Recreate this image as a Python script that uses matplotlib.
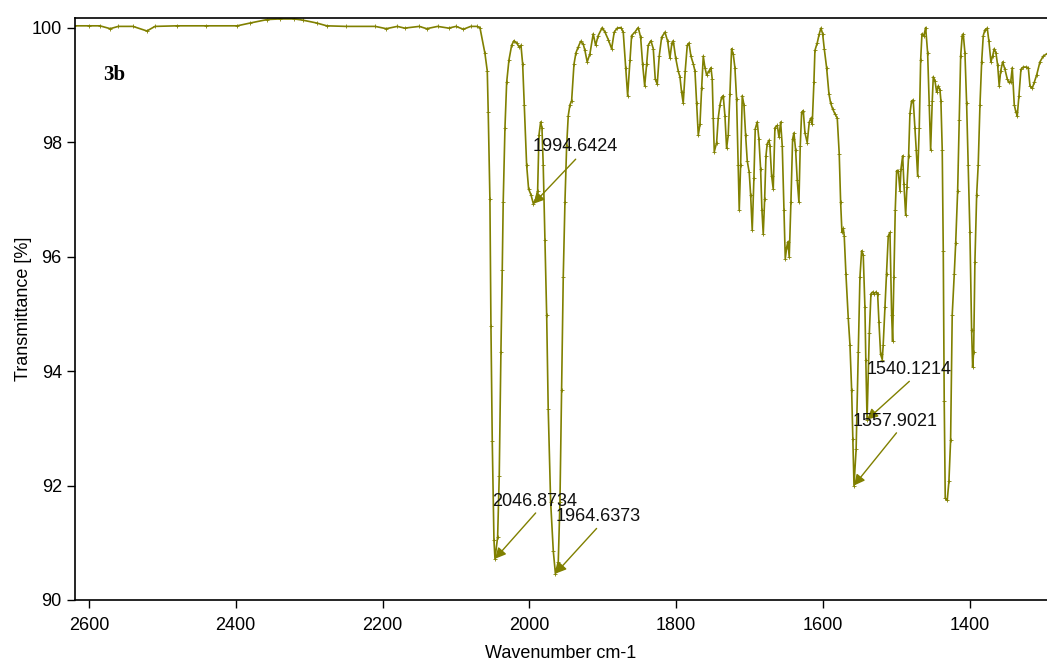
import matplotlib
matplotlib.use("Agg")
import matplotlib.pyplot as plt
from matplotlib import font_manager

# ---------------- data ----------------
wavenumber = [
    2620, 2600, 2585, 2571, 2560, 2540, 2521, 2510, 2480, 2440, 2398, 2380, 2357, 2340,
    2320, 2309, 2290, 2276, 2250, 2210, 2195, 2180, 2170, 2150, 2140, 2125, 2110, 2100,
    2090, 2080, 2072,
    2067.4, 2060.6, 2057.4, 2056.1, 2053.8, 2052.4, 2050.6, 2048.3, 2046.9, 2043.3,
    2041.1, 2038.8, 2037.0, 2035.7, 2033.3, 2031.0, 2027.9, 2024.2, 2021.1, 2017.4,
    2013.9, 2011.5, 2009.2, 2007.0, 2003.8, 2001.1, 1997.9, 1994.6, 1991.5, 1988.8,
    1987.0, 1984.7, 1982.9, 1981.2, 1978.9, 1976.5, 1974.4, 1971.1, 1967.5, 1964.6,
    1960.7, 1958.4, 1956.1, 1953.9, 1951.6, 1949.3, 1947.1, 1944.8, 1942.5, 1939.3,
    1936.6, 1933.5, 1930.2, 1926.7, 1924.4, 1921.3, 1917.6, 1913.1, 1909.8, 1906.3,
    1900.8, 1897.1, 1892.6, 1888.0, 1884.5, 1880.4, 1875.3, 1872.2, 1868.9, 1866.2,
    1863.1, 1860.8, 1856.3, 1851.8, 1848.5, 1845.8, 1843.0, 1840.3, 1838.2, 1834.5,
    1831.3, 1828.6, 1825.9, 1823.2, 1819.9, 1815.4, 1811.7, 1808.6, 1805.9, 1804.1,
    1800.8, 1797.3, 1795.0, 1792.7, 1790.5, 1787.8, 1785.0, 1782.7, 1780.0, 1776.9,
    1774.5, 1772.2, 1770.0, 1767.7, 1765.4, 1763.2, 1760.9, 1758.6, 1755.5, 1752.7,
    1751.0, 1749.6, 1748.2, 1745.0, 1742.8, 1740.5, 1738.2, 1736.0, 1733.7, 1731.4,
    1729.2, 1726.9, 1724.6, 1722.4, 1720.1, 1717.8, 1715.6, 1714.2, 1712.3, 1710.1,
    1707.8, 1705.5, 1703.3, 1700.6, 1698.7, 1696.5, 1694.2, 1692.4, 1689.7, 1687.4,
    1685.1, 1683.3, 1681.5, 1679.6, 1677.8, 1676.1, 1673.7, 1672.4, 1670.1, 1667.9,
    1665.6, 1662.4, 1660.1, 1657.8, 1655.6, 1653.3, 1651.5, 1649.6, 1647.9, 1646.1,
    1643.8, 1641.5, 1639.7, 1637.4, 1635.2, 1632.9, 1631.1, 1629.2, 1627.0, 1624.7,
    1621.6, 1618.8, 1616.5, 1614.8, 1612.5, 1611.1, 1608.0, 1605.2, 1602.9, 1600.6,
    1598.4, 1595.2, 1592.0, 1589.7, 1587.0, 1583.8, 1580.7, 1578.0, 1576.1, 1574.3,
    1572.5, 1571.2, 1568.9, 1565.7, 1563.4, 1561.1, 1559.5, 1557.9, 1555.0, 1552.1,
    1549.8, 1547.5, 1545.3, 1543.0, 1541.8, 1540.1, 1537.0, 1534.8, 1532.5, 1530.7,
    1528.0, 1525.7, 1523.9, 1521.6, 1519.4, 1518.1, 1515.7, 1513.4, 1511.2, 1508.9,
    1506.6, 1505.3, 1503.5, 1501.7, 1499.8, 1497.6, 1495.3, 1493.9, 1491.6, 1489.9,
    1487.5, 1485.8, 1483.5, 1481.7, 1479.4, 1477.2, 1474.9, 1473.1, 1471.2, 1469.0,
    1467.1, 1465.3, 1462.6, 1460.3, 1457.6, 1455.4, 1453.5, 1451.3, 1449.9, 1447.6,
    1445.3, 1443.1, 1440.8, 1439.5, 1437.7, 1436.3, 1435.0, 1433.6, 1430.9, 1428.6,
    1426.3, 1424.1, 1421.3, 1419.4, 1416.7, 1414.5, 1412.6, 1410.5, 1409.1, 1406.8,
    1404.5, 1402.3, 1400.0, 1397.7, 1396.3, 1394.9, 1393.2, 1390.8, 1388.7, 1386.3,
    1384.0, 1381.8, 1379.5, 1376.4, 1374.1, 1371.4, 1369.1, 1366.9, 1364.6, 1362.2,
    1360.1, 1358.1, 1355.4, 1352.3, 1349.1, 1346.8, 1344.5, 1342.3, 1339.6, 1337.3,
    1335.5, 1333.2, 1330.5, 1327.4, 1323.7, 1320.5, 1318.2, 1315.1, 1312.4, 1309.1,
    1304.6, 1300.1, 1295.5,
]
transmittance = [
    100.03, 100.03, 100.03, 99.98, 100.02, 100.02, 99.94, 100.02, 100.03, 100.03, 100.03,
    100.08, 100.14, 100.15, 100.15, 100.13, 100.08, 100.03, 100.02, 100.02, 99.98,
    100.02, 99.99, 100.02, 99.98, 100.02, 99.99, 100.02, 99.97, 100.02, 100.02,
    100.0, 99.55, 99.24, 98.52, 97.0, 94.79, 92.77, 91.05, 90.72, 91.1,
    92.17, 94.34, 95.77, 96.95, 98.25, 99.04, 99.43, 99.69, 99.77, 99.73,
    99.66, 99.69, 99.36, 98.65, 97.6, 97.18, 97.08, 96.92, 97.0, 97.15,
    98.12, 98.35, 98.25, 97.6, 96.29, 94.98, 93.34, 91.72, 90.86, 90.46,
    90.67, 91.72, 93.67, 95.65, 96.95, 97.93, 98.46, 98.65, 98.72, 99.36,
    99.56, 99.66, 99.76, 99.71, 99.6, 99.4, 99.54, 99.89, 99.69, 99.86,
    100.0, 99.92, 99.79, 99.63, 99.92, 99.99, 100.0, 99.92, 99.3, 98.81,
    99.43, 99.86, 99.92, 100.0, 99.83, 99.36, 98.98, 99.36, 99.69, 99.77,
    99.63, 99.1, 99.01, 99.5, 99.83, 99.92, 99.76, 99.47, 99.73, 99.77,
    99.47, 99.24, 99.14, 98.87, 98.68, 99.24, 99.69, 99.73, 99.5, 99.37,
    99.24, 98.68, 98.12, 98.31, 98.94, 99.5, 99.3, 99.17, 99.24, 99.3,
    99.1, 98.42, 97.83, 97.99, 98.42, 98.65, 98.78, 98.81, 98.46, 97.89,
    98.12, 98.84, 99.63, 99.54, 99.3, 98.75, 97.6, 96.81, 97.6, 98.81,
    98.65, 98.12, 97.67, 97.47, 97.08, 96.46, 97.37, 98.23, 98.35, 98.05,
    97.53, 96.81, 96.39, 97.0, 97.76, 97.97, 98.03, 97.93, 97.41, 97.18,
    98.25, 98.29, 98.09, 98.35, 97.93, 96.81, 95.96, 96.16, 96.26, 95.99,
    96.95, 98.05, 98.16, 97.86, 97.33, 96.95, 97.93, 98.52, 98.55, 98.16,
    97.99, 98.35, 98.42, 98.31, 99.04, 99.6, 99.73, 99.89, 99.99, 99.89,
    99.63, 99.3, 98.84, 98.68, 98.58, 98.49, 98.42, 97.79, 96.95, 96.42,
    96.49, 96.36, 95.7, 94.92, 94.46, 93.67, 92.82, 92.0, 92.63, 94.33,
    95.64, 96.1, 96.03, 95.11, 94.2, 93.15, 94.66, 95.35, 95.38, 95.35,
    95.38, 95.35, 94.85, 94.29, 94.2, 94.46, 95.11, 95.7, 96.36, 96.42,
    94.98, 94.52, 95.64, 96.81, 97.5, 97.5, 97.15, 97.53, 97.76, 97.27,
    96.72, 97.21, 97.76, 98.5, 98.72, 98.73, 98.25, 97.86, 97.41, 98.25,
    99.43, 99.89, 99.86, 100.0, 99.56, 98.65, 97.86, 98.72, 99.14, 99.07,
    98.87, 98.98, 98.91, 98.72, 97.86, 96.1, 93.48, 91.78, 91.74, 92.07,
    92.79, 94.98, 95.7, 96.23, 97.15, 98.39, 99.5, 99.86, 99.89, 99.56,
    98.68, 97.6, 96.42, 94.72, 94.07, 94.33, 95.9, 97.08, 97.6, 98.65,
    99.4, 99.86, 99.96, 99.99, 99.76, 99.4, 99.5, 99.63, 99.56, 99.34,
    98.98, 99.24, 99.4, 99.27, 99.1, 99.04, 99.04, 99.3, 98.65, 98.52,
    98.46, 98.81, 99.27, 99.31, 99.31, 99.3, 98.98, 98.94, 99.04, 99.17,
    99.4, 99.5, 99.54,
]

peak_labels = ["1994.6424", "2046.8734", "1964.6373", "1540.1214", "1557.9021"]
peak_x = [1994.6424, 2046.8734, 1964.6373, 1540.1214, 1557.9021]
peak_y = [96.92, 90.72, 90.46, 93.15, 92.0]
label_x = [1995.5, 2050.5, 1964.0, 1541.0, 1560.0]
label_y = [97.92, 91.72, 91.45, 94.02, 93.12]
arrow_x = [1937.0, 1991.5, 1908.5, 1482.5, 1500.0]
arrow_y = [97.70, 91.52, 91.25, 93.82, 92.92]

x_ticks = [2600, 2400, 2200, 2000, 1800, 1600, 1400]
y_ticks = [90, 92, 94, 96, 98, 100]

# ---------------- plot ----------------
line_color = "#808000"
names = {f.name for f in font_manager.fontManager.ttflist}
sans = "Liberation Sans" if "Liberation Sans" in names else "DejaVu Sans"
narrow = "Liberation Sans Narrow" if "Liberation Sans Narrow" in names else sans
serif = "Liberation Serif" if "Liberation Serif" in names else "DejaVu Serif"

fig = plt.figure(figsize=(10.47, 6.68), dpi=100)
ax = fig.add_axes([0.0716, 0.1018, 0.9284, 0.8712])

ax.plot(wavenumber, transmittance, color=line_color, lw=1.2,
        marker="+", markersize=2.5, markeredgewidth=0.6)

ax.set_xlim(2619, 1295)
ax.set_ylim(90, 100.166)
ax.set_xticks(x_ticks)
ax.set_yticks(y_ticks)
ax.set_xticklabels([str(t) for t in x_ticks], fontfamily=narrow, fontsize=13)
ax.set_yticklabels([str(t) for t in y_ticks], fontfamily=narrow, fontsize=13)
ax.tick_params(axis="both", direction="out", length=6, width=1, color="black")
ax.tick_params(axis="x", pad=6)
ax.spines["right"].set_visible(False)
for s in ["top", "left", "bottom"]:
    ax.spines[s].set_linewidth(1.2)

ax.set_xlabel("Wavenumber cm-1", fontfamily=narrow, fontsize=13, labelpad=8)
ax.set_ylabel("Transmittance [%]", fontfamily=narrow, fontsize=13, labelpad=0)

for lab, px, py, tx, ty, ax_, ay_ in zip(peak_labels, peak_x, peak_y, label_x,
                                         label_y, arrow_x, arrow_y):
    ax.text(tx, ty, lab, ha="left", va="center", fontfamily=sans, fontsize=13,
            color="#111111")
    ax.annotate("", xy=(px, py), xytext=(ax_, ay_),
                arrowprops=dict(arrowstyle="-|>", color=line_color, lw=1.0,
                                mutation_scale=16, shrinkA=0, shrinkB=0))

ax.text(2580, 99.17, "3b", ha="left", va="center", fontfamily=serif,
        fontweight="bold", fontsize=15)

fig.savefig("out.png", dpi=100)
